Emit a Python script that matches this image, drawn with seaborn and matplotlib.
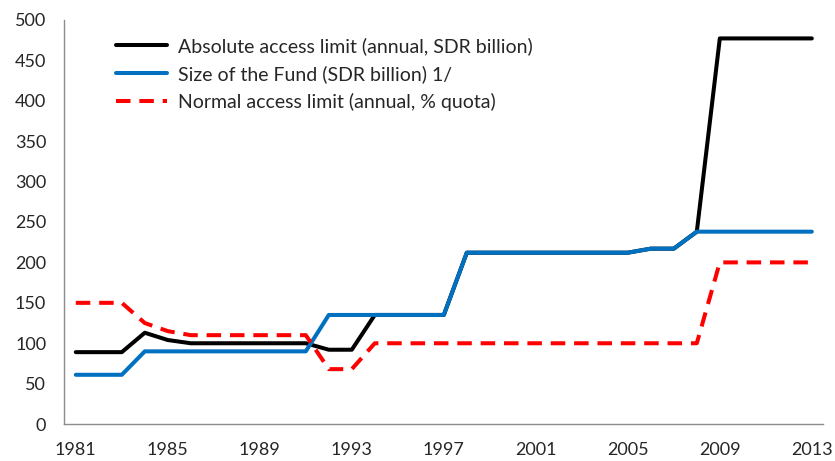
import numpy as np
import pandas as pd
import matplotlib
matplotlib.use('Agg')
import matplotlib.pyplot as plt
import seaborn as sns

years = list(range(1981, 2014))

absolute_limit = [89, 89, 89, 113, 104, 100, 100, 100, 100, 100, 100, 92, 92,
                  135, 135, 135, 135, 212, 212, 212, 212, 212, 212, 212, 212,
                  217, 217, 238, 477, 477, 477, 477, 477]
fund_size = [61, 61, 61, 90, 90, 90, 90, 90, 90, 90, 90, 135, 135,
             135, 135, 135, 135, 212, 212, 212, 212, 212, 212, 212, 212,
             217, 217, 238, 238, 238, 238, 238, 238]
normal_limit = [150, 150, 150, 125, 115, 110, 110, 110, 110, 110, 110, 68, 68,
                100, 100, 100, 100, 100, 100, 100, 100, 100, 100, 100, 100,
                100, 100, 100, 200, 200, 200, 200, 200]

labels = ['Absolute access limit (annual, SDR billion)',
          'Size of the Fund (SDR billion) 1/',
          'Normal access limit (annual, % quota)']
label_years = list(range(1981, 2014, 4))

sns.set_style('white')
plt.rcParams['font.family'] = ['Lato', 'DejaVu Sans']

fig, ax = plt.subplots(figsize=(8.35, 4.61), dpi=100)
fig.subplots_adjust(left=0.077, right=0.986, top=0.957, bottom=0.080)

df = pd.DataFrame({'year': years, 'abs': absolute_limit,
                   'fund': fund_size, 'normal': normal_limit})

sns.lineplot(data=df, x='year', y='abs', color='black', linewidth=2.9,
             label=labels[0], ax=ax)
sns.lineplot(data=df, x='year', y='fund', color='#0070C0', linewidth=2.9,
             label=labels[1], ax=ax)
sns.lineplot(data=df, x='year', y='normal', color='#FF0000', linewidth=2.9,
             linestyle=(0, (3.6, 2.2)), label=labels[2], ax=ax)

# category-style axis: ticks between years, labels centred on years
ax.set_xlim(years[0] - 0.5, years[-1] + 0.5)
ax.set_xticks([y - 0.5 for y in label_years])
ax.set_xticklabels([])
ax.set_xticks(label_years, minor=True)
ax.set_xticklabels([str(y) for y in label_years], minor=True)
ax.tick_params(axis='x', which='minor', length=0, pad=13, labelsize=13)
ax.tick_params(axis='x', which='major', length=5, width=1, color='#8c8c8c',
               direction='out')

ax.set_ylim(0, 500)
ax.set_yticks(range(0, 501, 50))
ax.tick_params(axis='y', length=5, width=1, color='#8c8c8c', direction='out',
               labelsize=13, pad=8)
ax.set_xlabel('')
ax.set_ylabel('')

for side in ['top', 'right']:
    ax.spines[side].set_visible(False)
for side in ['left', 'bottom']:
    ax.spines[side].set_color('#8c8c8c')
    ax.spines[side].set_linewidth(1)

ax.legend(loc='upper left', bbox_to_anchor=(0.045, 1.0), frameon=False,
          fontsize=14, handlelength=2.6, handletextpad=0.6, labelspacing=0.5)

plt.savefig('out.png', dpi=100)
plt.close()
